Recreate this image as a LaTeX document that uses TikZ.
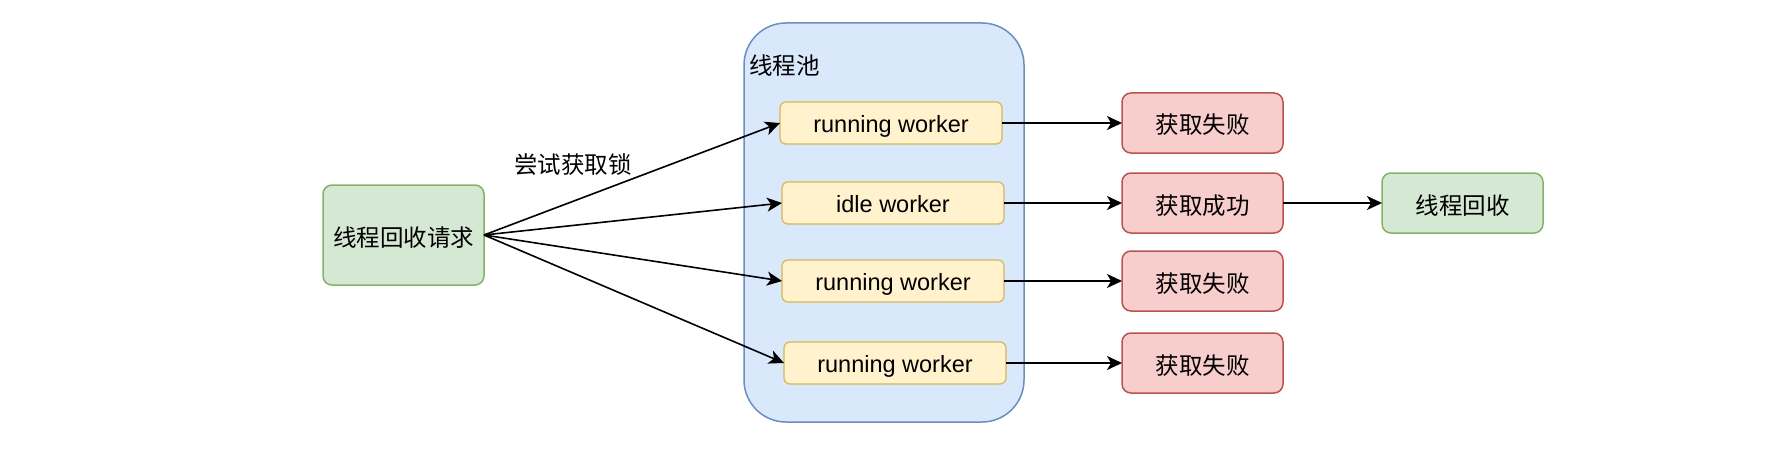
\documentclass[tikz,border=0pt]{standalone}
\usepackage{fontspec}
\setmainfont{Liberation Sans}
\newfontfamily\cjk{Noto Sans CJK SC}
\usetikzlibrary{arrows.meta}
\definecolor{gfill}{HTML}{D5E8D4}\definecolor{gline}{HTML}{82B366}
\definecolor{bfill}{HTML}{DAE8FC}\definecolor{bline}{HTML}{6C8EBF}
\definecolor{yfill}{HTML}{FFF2CC}\definecolor{yline}{HTML}{D6B656}
\definecolor{rfill}{HTML}{F8CECC}\definecolor{rline}{HTML}{B85450}
\begin{document}
\begin{tikzpicture}[x=1pt,y=-1pt,
  every node/.style={inner sep=0pt, outer sep=0pt, font=\fontsize{23.5}{28}\selectfont},
  greenbox/.style={draw=gline, fill=gfill, line width=1.5pt, rounded corners=9pt, minimum width=161pt, minimum height=60pt, text height=24pt, text depth=2pt, font=\fontsize{23.5}{28}\selectfont\cjk},
  redbox/.style={draw=rline, fill=rfill, line width=1.5pt, rounded corners=9pt, minimum width=161pt, minimum height=60pt, text height=24pt, text depth=2pt, font=\fontsize{23.5}{28}\selectfont\cjk},
  workerbox/.style={draw=yline, fill=yfill, line width=1.2pt, rounded corners=6pt, minimum width=222pt, minimum height=42pt, text height=22pt, text depth=3pt},
  poolbox/.style={draw=bline, fill=bfill, line width=1.5pt, rounded corners=42pt, minimum width=280pt, minimum height=399pt},
  conn/.style={line width=1.6pt, -{Stealth[length=15pt,width=14pt,inset=4pt]}}
]
\useasboundingbox (0,0) rectangle (1790,468);
\node[poolbox] (pool) at (884,222.5) {};
\node[anchor=west, font=\fontsize{23.5}{28}\selectfont\cjk] (poollabel) at (749,66) {线程池};
\node[greenbox, minimum height=100pt] (req) at (403.5,235) {线程回收请求};
\node[workerbox] (w1) at (891,123) {running worker};
\node[workerbox] (w2) at (893,203) {idle worker};
\node[workerbox] (w3) at (893,281) {running worker};
\node[workerbox] (w4) at (895,363) {running worker};
\node[redbox] (r1) at (1202.5,123) {获取失败};
\node[redbox] (r2) at (1202.5,203) {获取成功};
\node[redbox] (r3) at (1202.5,281) {获取失败};
\node[redbox] (r4) at (1202.5,363) {获取失败};
\node[greenbox] (done) at (1462.5,203) {线程回收};
\node[font=\fontsize{23.5}{28}\selectfont\cjk] (lbl) at (573,165) {尝试获取锁};
\draw[conn] (req.east) -- (w1.west);
\draw[conn] (req.east) -- (w2.west);
\draw[conn] (req.east) -- (w3.west);
\draw[conn] (req.east) -- (w4.west);
\draw[conn] (w1.east) -- (r1.west);
\draw[conn] (w2.east) -- (r2.west);
\draw[conn] (w3.east) -- (r3.west);
\draw[conn] (w4.east) -- (r4.west);
\draw[conn] (r2.east) -- (done.west);
\end{tikzpicture}
\end{document}
